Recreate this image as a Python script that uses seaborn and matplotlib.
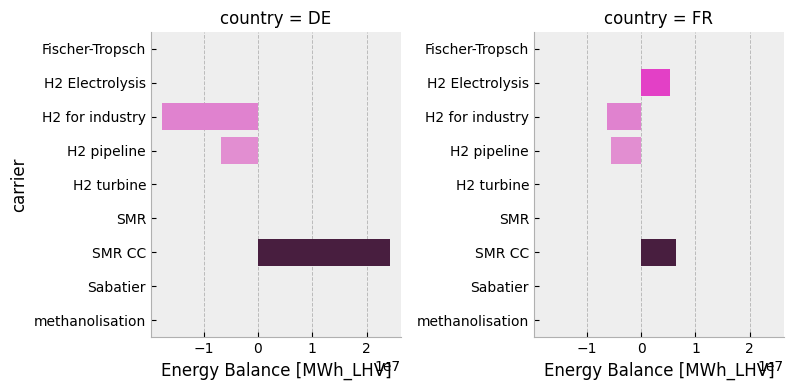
import pandas as pd
import matplotlib.pyplot as plt
import seaborn as sns

carriers = ["Fischer-Tropsch", "H2 Electrolysis", "H2 for industry", "H2 pipeline",
            "H2 turbine", "SMR", "SMR CC", "Sabatier", "methanolisation"]
de_values = [0, 0, -1.76e7, -0.68e7, 0, 0, 2.42e7, 0, 0]
fr_values = [0, 0.53e7, -0.62e7, -0.56e7, 0, 0, 0.65e7, 0, 0]
countries = ["DE", "FR"]
colors = ["#F9A825", "#E340C6", "#E082CF", "#E28ED1", "#8C6BB1",
          "#870C71", "#481E3F", "#9E7BB5", "#5B3A7A"]

df = pd.DataFrame({
    "carrier": carriers * 2,
    "country": ["DE"] * len(carriers) + ["FR"] * len(carriers),
    "value": de_values + fr_values,
})
palette = dict(zip(carriers, colors))

fig, axes = plt.subplots(1, 2, figsize=(8.07, 3.9), dpi=100, sharex=True)
fig.subplots_adjust(left=0.187, right=0.9715, top=0.918, bottom=0.136, wspace=0.532)

for ax, c in zip(axes, countries):
    sub = df[df["country"] == c]
    sns.barplot(data=sub, x="value", y="carrier", hue="carrier", palette=palette,
                order=carriers, legend=False, width=0.8, saturation=1, ax=ax)
    ax.set_facecolor("#EEEEEE")
    ax.set_title(f"country = {c}", fontsize=12)
    ax.set_xlabel("Energy Balance [MWh_LHV]", fontsize=12)
    ax.set_ylabel("carrier" if c == "DE" else "", fontsize=12)
    ax.xaxis.grid(True, linestyle="--", color="#BBBBBB", linewidth=0.7)
    ax.set_axisbelow(True)
    ax.tick_params(labelsize=10, direction="in", length=3.5)
    ax.spines["top"].set_visible(False)
    ax.spines["right"].set_visible(False)
    ax.spines["left"].set_color("#B0B0B0")
    ax.spines["bottom"].set_color("#B0B0B0")

plt.savefig("out.png", dpi=100)
